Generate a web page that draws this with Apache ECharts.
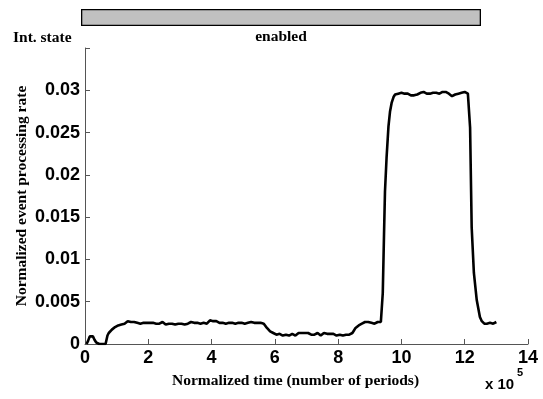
<!DOCTYPE html>
<html>
<head>
<meta charset="utf-8">
<script src="https://cdn.jsdelivr.net/npm/echarts@6/dist/echarts.min.js"></script>
<style>html,body{margin:0;padding:0;background:#fff;}#c{width:543px;height:399px;}</style>
</head>
<body>
<div id="c"></div>
<script>
// [time (x 1e5 periods), normalized event processing rate]
var rateSeries = [
  [0.05,0.0000],[0.10,0.0004],[0.15,0.0009],[0.20,0.0011],[0.25,0.0009],[0.30,0.0005],[0.35,0.0002],
  [0.40,0.0001],[0.45,0.0000],[0.50,0.0001],[0.55,0.0000],[0.60,0.0001],[0.65,0.0000],[0.70,0.0001],
  [0.71,0.0010],[0.75,0.0013],[0.80,0.0015],[0.85,0.0017],[0.90,0.0018],[0.95,0.0020],
  [1.00,0.0021],[1.05,0.0022],[1.10,0.0022],[1.15,0.0023],[1.20,0.0024],[1.25,0.0024],[1.30,0.0025],
  [1.35,0.0027],[1.40,0.0025],[1.45,0.0026],[1.50,0.0024],[1.55,0.0026],[1.60,0.0027],[1.65,0.0025],
  [1.70,0.0026],[1.75,0.0024],[1.80,0.0026],[1.85,0.0025],[1.90,0.0027],[1.95,0.0025],[2.00,0.0026],
  [2.05,0.0025],[2.10,0.0023],[2.15,0.0025],[2.20,0.0026],[2.25,0.0024],[2.30,0.0026],[2.35,0.0024],
  [2.40,0.0025],[2.45,0.0026],[2.50,0.0024],[2.55,0.0023],[2.60,0.0025],[2.65,0.0024],[2.70,0.0026],
  [2.75,0.0024],[2.80,0.0025],[2.85,0.0023],[2.90,0.0025],[2.95,0.0024],[3.00,0.0026],[3.05,0.0024],
  [3.10,0.0025],[3.15,0.0023],[3.20,0.0025],[3.25,0.0024],[3.30,0.0025],[3.35,0.0026],[3.40,0.0024],
  [3.45,0.0025],[3.50,0.0023],[3.55,0.0025],[3.60,0.0026],[3.65,0.0024],[3.70,0.0026],[3.75,0.0025],
  [3.80,0.0026],[3.85,0.0024],[3.90,0.0026],[3.95,0.0028],[4.00,0.0026],[4.05,0.0027],[4.10,0.0025],
  [4.15,0.0027],[4.20,0.0026],[4.25,0.0025],[4.30,0.0027],[4.35,0.0025],[4.40,0.0026],[4.45,0.0024],
  [4.50,0.0026],[4.55,0.0025],[4.60,0.0027],[4.65,0.0025],[4.70,0.0026],[4.75,0.0024],[4.80,0.0026],
  [4.85,0.0025],[4.90,0.0027],[4.95,0.0025],[5.00,0.0026],[5.05,0.0024],[5.10,0.0026],[5.15,0.0025],
  [5.20,0.0024],[5.25,0.0026],[5.30,0.0024],[5.35,0.0025],[5.40,0.0026],[5.45,0.0025],[5.50,0.0026],
  [5.55,0.0025],[5.60,0.0025],[5.65,0.0024],[5.70,0.0022],[5.75,0.0019],[5.80,0.0017],[5.85,0.0015],
  [5.90,0.0014],[5.95,0.0013],[6.00,0.0013],[6.05,0.0011],[6.10,0.0013],[6.15,0.0012],[6.20,0.0011],
  [6.25,0.0010],[6.30,0.0012],[6.35,0.0011],[6.40,0.0012],[6.45,0.0010],[6.50,0.0010],[6.55,0.0012],
  [6.60,0.0011],[6.65,0.0010],[6.70,0.0012],[6.75,0.0013],[6.80,0.0011],[6.85,0.0013],[6.90,0.0012],
  [6.95,0.0013],[7.00,0.0011],[7.05,0.0013],[7.10,0.0012],[7.15,0.0011],[7.20,0.0013],[7.25,0.0011],
  [7.30,0.0012],[7.35,0.0013],[7.40,0.0011],[7.45,0.0010],[7.50,0.0012],[7.55,0.0013],[7.60,0.0011],
  [7.65,0.0012],[7.70,0.0010],[7.75,0.0012],[7.80,0.0011],[7.85,0.0012],[7.90,0.0011],[7.95,0.0010],
  [8.00,0.0012],[8.05,0.0011],[8.10,0.0012],[8.15,0.0010],[8.20,0.0012],[8.25,0.0011],[8.30,0.0012],
  [8.35,0.0011],[8.40,0.0012],[8.45,0.0013],[8.50,0.0016],[8.55,0.0019],[8.60,0.0021],[8.65,0.0022],
  [8.70,0.0023],[8.75,0.0024],[8.80,0.0024],[8.85,0.0026],[8.90,0.0025],[8.95,0.0026],[9.00,0.0024],
  [9.05,0.0025],[9.10,0.0026],[9.15,0.0024],[9.20,0.0025],[9.25,0.0026],[9.30,0.0025],[9.35,0.0026],
  [9.40,0.0024],[9.41,0.0060],[9.45,0.0130],[9.48,0.0180],[9.53,0.0220],[9.59,0.0257],[9.64,0.0275],
  [9.69,0.0285],[9.75,0.0292],[9.80,0.0295],[9.85,0.0297],[9.90,0.0296],[9.95,0.0298],[10.00,0.0297],
  [10.05,0.0298],[10.10,0.0296],[10.15,0.0297],[10.20,0.0296],[10.25,0.0295],[10.30,0.0294],
  [10.35,0.0293],[10.40,0.0294],[10.45,0.0293],[10.50,0.0295],[10.55,0.0296],[10.60,0.0297],
  [10.65,0.0296],[10.70,0.0298],[10.75,0.0297],[10.80,0.0296],[10.85,0.0297],[10.90,0.0296],
  [10.95,0.0298],[11.00,0.0297],[11.05,0.0296],[11.10,0.0297],[11.15,0.0295],[11.20,0.0296],
  [11.25,0.0297],[11.30,0.0298],[11.35,0.0297],[11.40,0.0298],[11.45,0.0297],[11.50,0.0296],
  [11.55,0.0297],[11.60,0.0293],[11.65,0.0294],[11.70,0.0295],[11.75,0.0297],[11.80,0.0296],
  [11.85,0.0298],[11.90,0.0297],[11.95,0.0296],[12.00,0.0298],[12.05,0.0297],[12.10,0.0296],
  [12.14,0.0297],[12.17,0.0256],[12.22,0.0138],[12.29,0.0084],[12.38,0.0052],[12.48,0.0032],
  [12.54,0.0027],[12.58,0.0026],[12.62,0.0024],[12.66,0.0025],[12.70,0.0024],[12.75,0.0026],
  [12.80,0.0025],[12.85,0.0026],[12.90,0.0024],[12.95,0.0025],[13.00,0.0026]
];
var xTicks = [0,2,4,6,8,10,12,14];
var yTicks = [0,0.005,0.01,0.015,0.02,0.025,0.03,0.035];
var stateNames = ['enabled'];
var stateValues = [1];

var sans = '"Liberation Sans", Arial, sans-serif';
var serif = '"Liberation Serif", "Times New Roman", serif';
var axisColor = '#555';

var chart = echarts.init(document.getElementById('c'), null, {renderer:'canvas'});
chart.setOption({
  animation:false,
  backgroundColor:'#fff',
  grid:[
    {left:85, right:15, top:48, bottom:55, containLabel:false},
    {left:81, top:9, width:400, height:17, containLabel:false}
  ],
  xAxis:[
    {gridIndex:0, type:'value', min:xTicks[0], max:xTicks[xTicks.length-1], interval:2,
     axisLine:{lineStyle:{color:axisColor,width:1}},
     axisTick:{inside:true,length:5,lineStyle:{color:axisColor}},
     splitLine:{show:false},
     axisLabel:{color:'#000',fontFamily:sans,fontWeight:'bold',fontSize:18,margin:5},
     name:'Normalized time (number of periods)', nameLocation:'middle', nameGap:29, nameMoveOverlap:false,
     nameTextStyle:{color:'#000',fontFamily:serif,fontWeight:'bold',fontSize:15.5,padding:[0,22,0,0]}
    },
    {gridIndex:1, type:'category', data:stateNames, show:false}
  ],
  yAxis:[
    {gridIndex:0, type:'value', min:yTicks[0], max:yTicks[yTicks.length-1], interval:0.005,
     axisLine:{show:true,lineStyle:{color:axisColor,width:1}},
     axisTick:{show:true,inside:true,length:5,lineStyle:{color:axisColor}},
     splitLine:{show:false},
     axisLabel:{color:'#000',fontFamily:sans,fontWeight:'bold',fontSize:18,margin:5,
       formatter:function(v){ if (Math.abs(v-0.035)<1e-9) return ''; return String(+v.toFixed(3)); }},
     name:'Normalized event processing rate', nameLocation:'middle', nameGap:55, nameMoveOverlap:false,
     nameTextStyle:{color:'#000',fontFamily:serif,fontWeight:'bold',fontSize:15.5}
    },
    {gridIndex:1, type:'value', min:0, max:1, show:false}
  ],
  series:[
    {type:'line', xAxisIndex:0, yAxisIndex:0, data:rateSeries, showSymbol:false, symbol:'none',
     lineStyle:{color:'#000',width:2.6}, smooth:false},
    {type:'bar', xAxisIndex:1, yAxisIndex:1, data:stateValues, barWidth:'100%',
     itemStyle:{color:'#c0c0c0',borderColor:'#000',borderWidth:1.3},
     label:{show:true, position:'bottom', distance:3, formatter:function(p){return stateNames[p.dataIndex];},
       color:'#000', fontFamily:serif, fontWeight:'bold', fontSize:15.5}}
  ],
  graphic:[
    {type:'text', left:13, top:30, style:{text:'Int. state', fill:'#000', font:'bold 15.5px '+serif}},
    {type:'text', left:485, top:377, style:{text:'x 10', fill:'#000', font:'bold 15px '+sans}},
    {type:'text', left:517, top:367, style:{text:'5', fill:'#000', font:'bold 11px '+sans}}
  ]
});
</script>
</body>
</html>
